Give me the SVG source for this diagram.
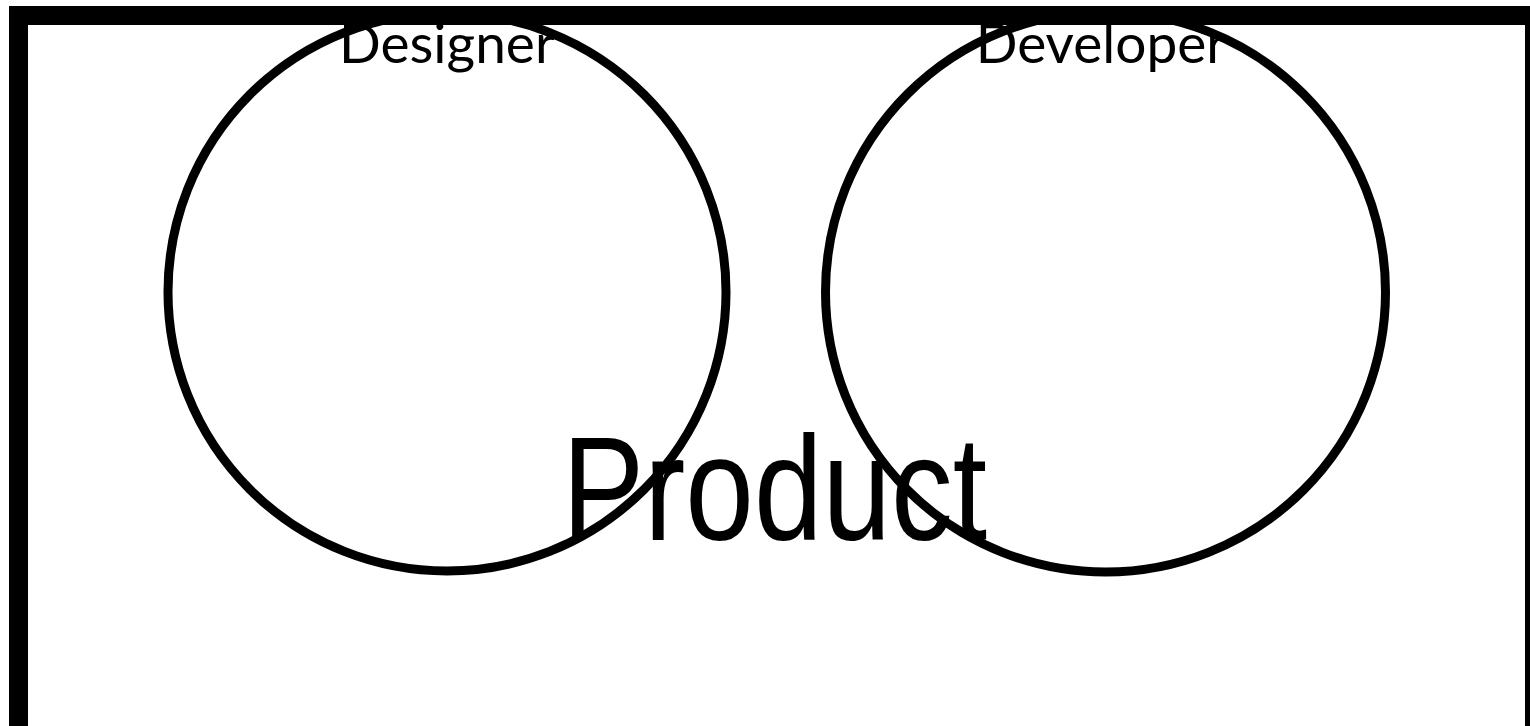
<svg xmlns="http://www.w3.org/2000/svg" width="1530" height="726" viewBox="0 0 1530 726">
<style>
.frame{fill:none;stroke:#000;stroke-width:19}
.circ{fill:none;stroke:#000;stroke-width:9}
.lbl{font-family:Lato,"Liberation Sans",sans-serif;font-size:55px;fill:#000;text-anchor:middle}
.big{font-family:"Liberation Sans",Arial,sans-serif;font-size:148px;fill:#000}
</style>
<rect width="1530" height="726" fill="#fff"/>
<g id="product">
<rect class="frame" x="18.5" y="15.5" width="1516" height="730"/>
<text class="big" x="562" y="540" textLength="425" lengthAdjust="spacingAndGlyphs">Product</text>
</g>
<g id="designer">
<text class="lbl" x="447" y="63">Designer</text>
<circle class="circ" cx="447" cy="292" r="279"/>
</g>
<g id="developer">
<text class="lbl" x="1101" y="63">Developer</text>
<circle class="circ" cx="1105.5" cy="292" r="280"/>
</g>
<g id="connectors"></g>
</svg>
